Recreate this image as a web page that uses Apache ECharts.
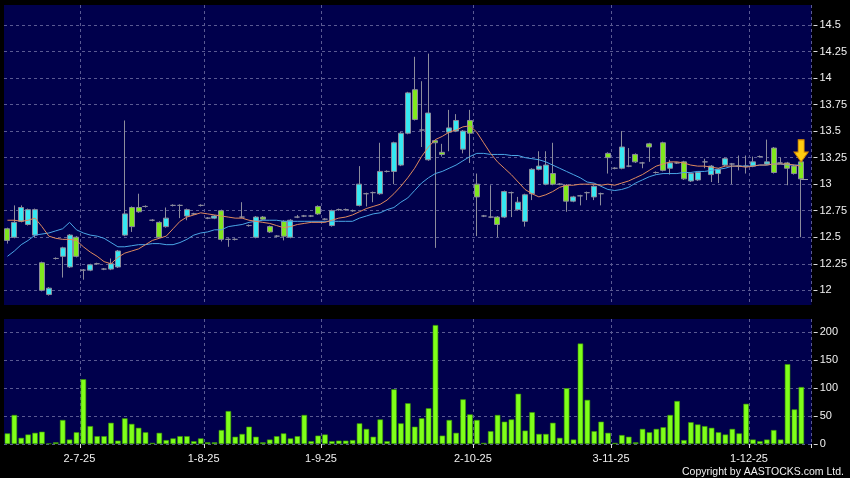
<!DOCTYPE html>
<html>
<head>
<meta charset="utf-8">
<script src="https://cdn.jsdelivr.net/npm/echarts@6/dist/echarts.min.js"></script>
<style>
html,body{margin:0;padding:0;background:#000;}
#c{width:850px;height:478px;}
</style>
</head>
<body>
<div id="c"></div>
<script>
// ---- data ----
const opens = [
12.58,12.50,12.65,12.62,12.52,12.26,11.96,12.30,12.32,12.22,
12.50,12.19,12.19,12.25,12.20,12.20,12.22,12.52,12.78,12.78,
12.79,12.66,12.64,12.60,12.80,12.80,12.70,12.72,12.80,12.68,
12.68,12.75,12.48,12.48,12.69,12.61,12.50,12.69,12.60,12.51,
12.65,12.50,12.69,12.70,12.70,12.79,12.67,12.61,12.76,12.76,
12.75,12.80,12.91,12.92,12.91,13.12,13.12,13.18,13.48,13.89,
13.51,13.23,13.41,13.30,13.49,13.50,13.33,13.60,13.00,12.70,
12.69,12.69,12.69,12.92,12.76,12.65,12.91,13.14,13.00,13.10,
13.00,12.99,12.84,12.89,12.92,12.88,12.91,13.29,13.15,13.15,
13.17,13.28,13.20,13.38,13.11,13.39,13.15,13.20,13.21,13.03,
13.04,13.21,13.09,13.10,13.18,13.19,13.17,13.17,13.17,13.26,
13.19,13.34,13.20,13.20,13.17,13.21];
const closes = [
12.47,12.64,12.78,12.76,12.76,12.00,12.02,12.30,12.40,12.52,
12.32,12.19,12.24,12.25,12.20,12.25,12.37,12.72,12.60,12.74,
12.79,12.66,12.50,12.68,12.80,12.80,12.76,12.72,12.80,12.68,
12.70,12.48,12.48,12.48,12.69,12.61,12.69,12.67,12.55,12.51,
12.51,12.66,12.69,12.70,12.70,12.72,12.67,12.75,12.76,12.76,
12.75,13.00,12.91,12.92,13.12,13.12,13.39,13.48,13.86,13.61,
13.51,13.67,13.39,13.28,13.53,13.60,13.50,13.48,12.88,12.70,
12.69,12.62,12.93,12.92,12.83,12.90,13.14,13.17,13.18,13.00,
13.00,12.84,12.88,12.89,12.92,12.98,12.91,13.25,13.15,13.35,
13.17,13.21,13.20,13.35,13.11,13.13,13.20,13.20,13.05,13.10,
13.11,13.21,13.17,13.14,13.24,13.19,13.17,13.17,13.21,13.26,
13.21,13.11,13.20,13.15,13.10,13.05];
const lows = [
12.44,12.49,12.64,12.61,12.50,11.99,11.95,12.29,12.12,12.21,
12.31,12.10,12.18,12.24,12.19,12.19,12.21,12.51,12.55,12.73,
12.78,12.65,12.49,12.59,12.79,12.68,12.66,12.71,12.79,12.67,
12.67,12.46,12.41,12.47,12.68,12.60,12.49,12.66,12.54,12.50,
12.47,12.49,12.68,12.69,12.69,12.71,12.66,12.60,12.75,12.75,
12.74,12.79,12.79,12.83,12.90,13.11,13.00,13.17,13.47,13.60,
13.35,13.22,12.40,13.26,13.31,13.49,13.29,13.20,12.51,12.69,
12.68,12.50,12.68,12.69,12.75,12.60,12.85,13.13,12.99,12.99,
12.99,12.74,12.83,12.80,12.85,12.85,12.80,13.10,13.14,13.14,
13.16,13.20,13.15,13.21,13.10,13.12,13.09,13.19,13.04,13.02,
13.03,13.15,13.02,13.01,13.17,13.00,13.13,13.10,13.16,13.25,
13.18,13.10,13.19,12.99,13.09,12.50];
const highs = [
12.59,12.80,12.80,12.77,12.77,12.27,12.03,12.31,12.41,12.53,
12.51,12.20,12.25,12.26,12.21,12.30,12.38,13.60,12.79,12.91,
12.80,12.67,12.65,12.78,12.81,12.81,12.77,12.73,12.81,12.69,
12.71,12.76,12.49,12.49,12.83,12.62,12.70,12.70,12.61,12.52,
12.66,12.67,12.71,12.71,12.71,12.80,12.68,12.76,12.77,12.77,
12.76,13.17,12.92,12.93,13.39,13.13,13.40,13.49,13.87,14.20,
13.97,14.23,13.42,13.38,13.70,13.66,13.51,13.70,13.10,12.71,
12.99,12.70,12.94,12.93,12.88,12.91,13.15,13.31,13.31,13.39,
13.01,13.00,12.89,12.90,12.93,12.99,12.92,13.30,13.16,13.50,
13.34,13.29,13.21,13.39,13.12,13.40,13.23,13.21,13.22,13.11,
13.12,13.24,13.18,13.15,13.25,13.20,13.27,13.27,13.26,13.27,
13.42,13.35,13.25,13.21,13.18,13.22];
const volumes = [
19,52,11,17,20,22,1,3,43,8,
21,116,32,14,14,38,6,46,36,29,
21,2,20,7,10,14,14,5,10,3,
3,25,59,13,18,31,13,3,8,14,
19,10,14,52,5,15,17,5,6,6,
7,37,27,13,44,5,98,37,73,31,
46,64,213,15,43,20,80,53,43,2,
23,52,40,44,90,24,57,18,18,38,
11,100,8,180,79,23,40,20,2,16,
13,3,27,21,27,30,52,77,7,39,
35,32,29,21,17,27,19,72,8,5,
8,25,8,143,62,102];
const maShort = [
12.66,12.66,12.65,12.66,12.68,12.60,12.51,12.49,12.48,12.48,
12.47,12.41,12.36,12.32,12.27,12.25,12.31,12.35,12.37,12.39,
12.43,12.47,12.49,12.51,12.58,12.65,12.69,12.71,12.73,12.72,
12.71,12.70,12.69,12.68,12.68,12.66,12.65,12.64,12.63,12.61,
12.59,12.60,12.62,12.63,12.64,12.64,12.64,12.66,12.68,12.69,
12.71,12.74,12.77,12.79,12.81,12.85,12.91,12.98,13.06,13.15,
13.26,13.35,13.42,13.45,13.49,13.51,13.54,13.55,13.49,13.39,
13.29,13.21,13.15,13.09,13.02,12.95,12.91,12.88,12.90,12.93,
12.97,12.99,12.99,13.00,13.00,13.00,12.99,13.00,12.99,13.01,
13.03,13.06,13.09,13.13,13.17,13.19,13.21,13.21,13.20,13.18,
13.17,13.17,13.16,13.15,13.17,13.17,13.17,13.16,13.17,13.18,
13.18,13.19,13.19,13.19,13.18,13.17];
const maLong = [
12.32,12.37,12.43,12.47,12.52,12.53,12.54,12.56,12.58,12.64,
12.57,12.54,12.52,12.51,12.49,12.45,12.41,12.41,12.42,12.43,
12.43,12.44,12.44,12.43,12.43,12.45,12.48,12.52,12.54,12.55,
12.57,12.57,12.60,12.61,12.62,12.64,12.65,12.66,12.66,12.66,
12.65,12.65,12.65,12.65,12.65,12.65,12.65,12.65,12.65,12.65,
12.65,12.68,12.70,12.72,12.73,12.76,12.78,12.83,12.87,12.94,
13.01,13.06,13.10,13.12,13.15,13.18,13.22,13.26,13.29,13.29,
13.28,13.28,13.28,13.27,13.27,13.25,13.24,13.23,13.21,13.18,
13.15,13.12,13.09,13.06,13.02,13.01,12.98,12.95,12.94,12.95,
12.97,13.01,13.04,13.07,13.09,13.10,13.10,13.10,13.11,13.11,
13.12,13.12,13.13,13.14,13.15,13.17,13.17,13.17,13.17,13.18,
13.18,13.19,13.19,13.18,13.18,13.18];
const xTickIndex = [11, 29, 46, 68, 88, 108];
const xTickLabels = ['2-7-25', '1-8-25', '1-9-25', '2-10-25', '3-11-25', '1-12-25'];
const priceTicks = [12, 12.25, 12.5, 12.75, 13, 13.25, 13.5, 13.75, 14, 14.25, 14.5];
const volumeTicks = [0, 50, 100, 150, 200];

// ---- chart ----
const slots = opens.map((_, i) => 'd' + (i + 1)).concat(['']);
const candles = opens.map((o, i) => [o, closes[i], lows[i], highs[i]]);
const last = opens.length - 1;

const NAVY = '#00004c';
const FONT = 'Arial, "Liberation Sans", sans-serif';
const gridLine = { color: '#5a5a92', type: [3, 3], width: 1 };
const tickInterval = (idx) => xTickIndex.indexOf(idx) >= 0;

const chart = echarts.init(document.getElementById('c'), null, { renderer: 'canvas' });
chart.setOption({
  animation: false,
  backgroundColor: '#000000',
  grid: [
    { left: 4, right: 38.3, top: 5, height: 300, show: true, backgroundColor: NAVY, borderWidth: 0 },
    { left: 4, right: 38.3, top: 319, height: 125, show: true, backgroundColor: NAVY, borderWidth: 0 }
  ],
  xAxis: [
    {
      type: 'category', gridIndex: 0, data: slots, boundaryGap: true,
      axisLine: { show: false }, axisTick: { show: false }, axisLabel: { show: false },
      splitLine: { show: true, interval: tickInterval, lineStyle: gridLine }
    },
    {
      type: 'category', gridIndex: 1, data: slots, boundaryGap: true,
      axisLine: { show: false },
      axisTick: { show: true, interval: tickInterval, length: 4, lineStyle: { color: '#dddddd' } },
      axisLabel: {
        interval: tickInterval, color: '#f0f0f0', fontSize: 11, fontFamily: FONT, margin: 9,
        padding: [0, 8, 0, 0],
        formatter: (v, idx) => { const k = xTickIndex.indexOf(idx); return k >= 0 ? xTickLabels[k] : ''; }
      },
      splitLine: { show: true, interval: tickInterval, lineStyle: gridLine }
    }
  ],
  yAxis: [
    {
      type: 'value', gridIndex: 0, position: 'right', min: 11.8615, max: 14.688, offset: 2, scale: true,
      axisLine: { show: false },
      axisTick: { show: true, length: 4, customValues: priceTicks, lineStyle: { color: '#dddddd' } },
      axisLabel: { customValues: priceTicks, color: '#f0f0f0', fontSize: 11, fontFamily: FONT, margin: 6 },
      splitLine: { show: true, lineStyle: gridLine }
    },
    {
      type: 'value', gridIndex: 1, position: 'right', min: 0, max: 223.9, offset: 2,
      axisLine: { show: false },
      axisTick: { show: true, length: 4, customValues: volumeTicks, lineStyle: { color: '#dddddd' } },
      axisLabel: { customValues: volumeTicks, color: '#f0f0f0', fontSize: 11, fontFamily: FONT, margin: 6 },
      splitLine: { show: true, lineStyle: gridLine }
    }
  ],
  series: [
    {
      type: 'line', xAxisIndex: 0, yAxisIndex: 0, data: maLong, symbol: 'none',
      lineStyle: { color: '#4aa6e6', width: 1 }, z: 3
    },
    {
      type: 'line', xAxisIndex: 0, yAxisIndex: 0, data: maShort, symbol: 'none',
      lineStyle: { color: '#e08a5e', width: 1 }, z: 3
    },
    {
      type: 'candlestick', xAxisIndex: 0, yAxisIndex: 0, data: candles, barWidth: 5.5, z: 2,
      itemStyle: { color: '#36e8f2', color0: '#80e81e', borderColor: '#8c8c9c', borderColor0: '#8c8c9c', borderWidth: 1 },
      markLine: {
        silent: true, symbol: ['none', 'none'], label: { show: false },
        lineStyle: { color: '#9a9aa6', type: 'solid', width: 1 },
        data: [[{ coord: [slots[last], closes[last]] }, { coord: [slots[last + 1], closes[last]] }]]
      },
      markPoint: {
        silent: true,
        symbol: 'path://M4,0 L10,0 L10,10 L14,10 L7,18 L0,10 L4,10 Z',
        symbolSize: [14, 22], symbolOffset: [0, '-50%'],
        itemStyle: { color: '#ffcc10', borderColor: '#d88a00', borderWidth: 1 },
        label: { show: false },
        data: [{ coord: [slots[last], opens[last]] }]
      }
    },
    {
      type: 'bar', xAxisIndex: 1, yAxisIndex: 1, data: volumes, barWidth: 5.5,
      itemStyle: { color: '#7fff1a', borderColor: '#3a9a00', borderWidth: 0.6 }
    }
  ],
  graphic: [
    {
      type: 'text', right: 6, top: 467,
      style: { text: 'Copyright by AASTOCKS.com Ltd.', fill: '#f0f0f0', font: '10.5px ' + FONT }
    }
  ]
});
</script>
</body>
</html>
